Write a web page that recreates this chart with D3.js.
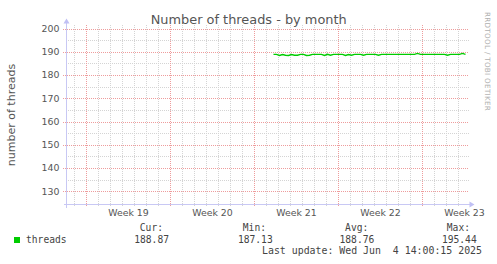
<!DOCTYPE html>
<html><head><meta charset="utf-8">
<script src="https://cdn.jsdelivr.net/npm/d3@7"></script>
<style>
html,body{margin:0;padding:0;background:#fff;}
svg{display:block;}
text{font-family:"DejaVu Sans",sans-serif;}
.mono{font-family:"DejaVu Sans Mono",monospace;}
</style></head>
<body>
<svg id="c" width="497" height="264"></svg>
<script>
// ---- data ----
const title = "Number of threads - by month";
const yAxisLabel = "number of threads";
const watermark = "RRDTOOL / TOBI OETIKER";
const seriesName = "threads";
const seriesStart = Date.UTC(2025, 4, 20, 14);   // first sample
const stepHours = 6;
const threadValues = [
  188.9,188.9,188.4,188.8,188.5,188.4,188.8,188.5,188.5,188.9,
  188.9,188.4,188.5,188.9,188.9,188.9,188.9,188.4,188.9,188.5,
  188.9,188.9,188.9,188.9,188.4,188.8,188.5,188.9,188.9,188.9,
  188.5,188.9,188.9,188.9,188.9,188.5,188.9,188.9,188.9,188.9,
  188.9,188.9,188.9,188.9,188.9,188.9,188.9,188.9,189.3,188.9,
  188.9,188.9,188.9,188.9,188.9,188.9,188.9,188.9,188.5,188.9,
  188.9,188.9,188.9,189.3,188.9
];
const yTicks = [130,140,150,160,170,180,190,200];
const yMinorTicks = [135,145,155,165,175,185,195];
const weekLabels = ["Week 19","Week 20","Week 21","Week 22","Week 23"];
const weekStarts = [Date.UTC(2025,4,5),Date.UTC(2025,4,12),Date.UTC(2025,4,19),Date.UTC(2025,4,26),Date.UTC(2025,5,2)];
const statLabels = ["Cur:","Min:","Avg:","Max:"];
const statValues = ["188.87","187.13","188.76","195.44"];
const lastUpdate = "Last update: Wed Jun  4 14:00:15 2025";
const timeDomain = [Date.UTC(2025,4,3,8), Date.UTC(2025,5,5,20)];
const yDomain = [124.8, 200];

// ---- drawing ----
const svg = d3.select("#c");
const x = d3.scaleUtc().domain(timeDomain.map(d=>new Date(d))).range([66.5, 468.5]);
const y = d3.scaleLinear().domain(yDomain).range([203.5, 28.5]);
const plotTop = 24.5, axisY = 204.5, axisX = 66.5, plotRight = 468.5;

const grid = svg.append("g").attr("shape-rendering","crispEdges");
// minor horizontal
grid.selectAll(".hmin").data(yMinorTicks).join("line")
  .attr("x1", axisX-1).attr("x2", plotRight)
  .attr("y1", d=>Math.round(y(d))+0.5).attr("y2", d=>Math.round(y(d))+0.5)
  .attr("stroke","#d4d4d4").attr("stroke-dasharray","1,1");
// minor vertical (days)
const days = d3.utcDay.range(new Date(timeDomain[0]), new Date(timeDomain[1]))
  .filter(d=>x(d)>axisX+1 && !weekStarts.includes(+d));
grid.selectAll(".vmin").data(days).join("line")
  .attr("x1", d=>Math.round(x(d)-0.5)+0.5).attr("x2", d=>Math.round(x(d)-0.5)+0.5)
  .attr("y1", plotTop).attr("y2", axisY+1)
  .attr("stroke","#d4d4d4").attr("stroke-dasharray","1,1");
// major horizontal
grid.selectAll(".hmaj").data(yTicks).join("line")
  .attr("x1", axisX-4).attr("x2", plotRight)
  .attr("y1", d=>Math.round(y(d))+0.5).attr("y2", d=>Math.round(y(d))+0.5)
  .attr("stroke","#ee9c9c").attr("stroke-dasharray","1,1");
// major vertical (weeks)
grid.selectAll(".vmaj").data(weekStarts).join("line")
  .attr("x1", d=>Math.round(x(new Date(d))-0.5)+0.5).attr("x2", d=>Math.round(x(new Date(d))-0.5)+0.5)
  .attr("y1", plotTop).attr("y2", axisY+2)
  .attr("stroke","#ee9c9c").attr("stroke-dasharray","1,1");

// axes with arrows
const ax = svg.append("g").attr("shape-rendering","crispEdges");
ax.append("line").attr("x1",axisX-3).attr("x2",plotRight+1).attr("y1",axisY).attr("y2",axisY).attr("stroke","#c8c8f4");
ax.append("line").attr("x1",axisX).attr("x2",axisX).attr("y1",axisY+3).attr("y2",plotTop-2).attr("stroke","#c8c8f4");
svg.append("path").attr("d",`M${plotRight+1},${axisY-3} L${plotRight+6},${axisY} L${plotRight+1},${axisY+3} Z`).attr("fill","#c0c0f4");
svg.append("path").attr("d",`M${axisX-3},${plotTop-1} L${axisX},${plotTop-6} L${axisX+3},${plotTop-1} Z`).attr("fill","#c0c0f4");

// y tick labels
svg.selectAll(".yl").data(yTicks).join("text")
  .attr("x",59.5).attr("y",d=>y(d)).attr("dy","0.35em").attr("text-anchor","end")
  .attr("font-size","9.4px").attr("fill","#555").text(d=>d);

// week labels centered in the week
svg.selectAll(".wl").data(weekLabels).join("text")
  .attr("x",(d,i)=>x(new Date(weekStarts[i] + 3.5*86400000)))
  .attr("y",216).attr("text-anchor","middle")
  .attr("font-size","9.4px").attr("fill","#555").text(d=>d);

// series line
const pts = threadValues.map((v,i)=>[new Date(seriesStart + i*stepHours*3600000), v]);
svg.append("path").datum(pts)
  .attr("d", d3.line().x(d=>x(d[0])).y(d=>y(d[1])))
  .attr("fill","none").attr("stroke","#00cc00").attr("stroke-width",1.4);

// title
svg.append("text").attr("x",248.7).attr("y",24).attr("text-anchor","middle")
  .attr("font-size","12.9px").attr("fill","#555").text(title);
// y axis label
svg.append("text").attr("transform","translate(15,115) rotate(-90)").attr("text-anchor","middle")
  .attr("font-size","11px").attr("fill","#555").text(yAxisLabel);
// watermark
svg.append("text").attr("transform","translate(485,12) rotate(90)")
  .attr("font-size","7.2px").attr("fill","#b0b0b0").attr("letter-spacing","0.3px").text(watermark);

// legend
svg.append("rect").attr("x",14).attr("y",237).attr("width",6).attr("height",6).attr("fill","#00cc00");
svg.append("text").attr("class","mono").attr("x",26).attr("y",243).attr("font-size","9.65px").attr("fill","#444").text(seriesName);
const labelRight = [163,266,368.3,470];
const valueRight = [169,272.7,374.3,476.7];
svg.selectAll(".sl").data(statLabels).join("text").attr("class","mono")
  .attr("x",(d,i)=>labelRight[i]).attr("y",231).attr("text-anchor","end")
  .attr("font-size","9.65px").attr("fill","#444").text(d=>d);
svg.selectAll(".sv").data(statValues).join("text").attr("class","mono")
  .attr("x",(d,i)=>valueRight[i]).attr("y",243).attr("text-anchor","end")
  .attr("font-size","9.65px").attr("fill","#444").text(d=>d);
svg.append("text").attr("class","mono").attr("x",482).attr("y",254).attr("text-anchor","end")
  .attr("xml:space","preserve").style("white-space","pre")
  .attr("font-size","9.9px").attr("fill","#444").text(lastUpdate);
</script>
</body></html>
